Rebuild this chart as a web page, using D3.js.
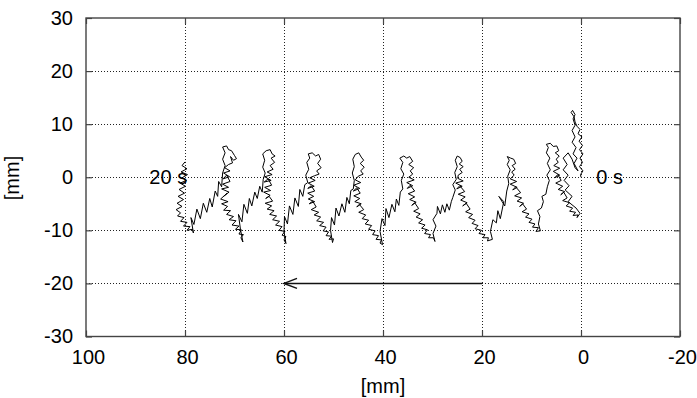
<!DOCTYPE html>
<html>
<head>
<meta charset="utf-8">
<script src="https://cdn.jsdelivr.net/npm/d3@7"></script>
<style>
  html, body { margin: 0; padding: 0; background: #fff; }
  svg { display: block; }
  text { font-family: "Liberation Sans", Arial, Helvetica, sans-serif; fill: #000; }
</style>
</head>
<body>
<svg id="chart" width="697" height="398"></svg>
<script>
// Trajectory samples [x mm, y mm], one array per stride, ordered from the 20 s end to the 0 s end.
const stride10 = [[80.0,2.9],[80.6,2.2],[79.6,1.6],[80.8,1.0],[79.5,0.5],[80.6,-0.1],[79.7,-0.6],[81.0,-1.1],[79.9,-1.7],[81.2,-2.3],[80.1,-3.0],[81.4,-3.6],[80.3,-4.2],[81.6,-4.9],[80.6,-5.5],[81.8,-6.1],[80.9,-6.7],[81.5,-7.3],[80.2,-7.6],[80.9,-8.3],[79.6,-8.5],[80.3,-9.2],[79.0,-9.3],[79.6,-10.0],[78.5,-9.8],[78.3,-10.5]];
const stride9 = [[78.8,-7.6],[78.2,-8.9],[77.6,-6.0],[76.9,-7.8],[76.3,-4.9],[75.6,-6.6],[75.0,-4.0],[74.5,-5.6],[73.9,-2.6],[73.4,-3.6],[73.2,-0.8],[72.6,-1.8],[72.4,0.8],[71.9,2.2],[72.4,3.4],[71.9,4.6],[72.4,5.7],
  [71.6,5.9],[71.2,5.2],[70.6,5.0],[70.0,4.1],[69.6,3.5],[70.2,3.2],[70.8,3.9],[70.4,2.7],[71.2,2.4],
  [72.0,1.8],[70.9,1.2],[72.2,0.8],[71.0,0.1],[72.3,-0.3],[71.6,0.4],[70.9,-0.8],[72.4,-1.3],[71.2,-1.9],[72.6,-2.2],[71.1,-2.8],[72.2,-3.6],[71.5,-3.0],[72.8,-4.1],[71.3,-4.6],[72.6,-5.0],[71.4,-5.5],[72.2,-6.2],[70.8,-6.3],[71.6,-7.0],[70.2,-7.4],[71.1,-8.0],[69.7,-8.2],[70.5,-9.0],[69.1,-9.2],[69.8,-9.8],[68.6,-9.9],[69.1,-10.7],[68.2,-10.8],[68.7,-11.4],[68.3,-12.2]];
const stride8 = [[68.8,-9.8],[69.2,-7.0],[68.5,-8.4],[68.1,-5.1],[67.4,-6.8],[67.0,-4.0],[66.5,-5.4],[65.9,-2.8],[65.4,-4.0],[64.9,-1.7],[64.4,-2.8],[64.2,-0.4],[63.8,0.8],[64.3,1.9],[63.9,3.2],[64.3,4.4],[63.6,5.0],
  [62.8,5.2],[62.4,4.4],[61.8,4.0],[62.6,3.6],[61.9,2.8],[62.8,2.2],[62.2,1.5],
  [63.4,1.0],[62.4,0.5],[63.9,0.1],[62.6,-0.6],[64.0,-0.9],[63.2,-0.3],[62.5,-1.5],[63.9,-1.9],[62.7,-2.5],[64.1,-2.8],[62.8,-3.4],[63.7,-4.0],[63.0,-3.6],[62.3,-4.5],[63.8,-4.9],[62.5,-5.4],[63.4,-6.0],[62.0,-6.3],[62.9,-7.0],[61.5,-7.3],[62.3,-8.0],[60.9,-8.3],[61.7,-9.0],[60.4,-9.3],[61.0,-10.0],[59.8,-10.2],[60.4,-10.9],[59.6,-11.2],[60.0,-11.8],[59.6,-12.5]];
const stride7 = [[60.0,-10.2],[59.9,-7.4],[59.3,-8.8],[58.9,-5.4],[58.2,-7.0],[57.8,-3.9],[57.1,-5.5],[56.8,-2.3],[56.2,-3.6],[55.8,-1.4],[55.2,-1.0],[55.6,0.4],[55.0,1.5],[55.4,2.8],[54.8,3.6],[55.1,4.4],
  [54.3,4.6],[53.6,4.0],[53.0,4.3],[52.6,3.4],[53.2,2.6],[52.5,1.8],[53.4,1.2],[52.9,0.6],[53.8,0.3],
  [54.8,-0.1],[53.7,-0.6],[55.1,-1.1],[53.9,-1.7],[55.2,-2.1],[54.5,-1.6],[53.8,-2.6],[55.2,-3.0],[54.0,-3.6],[55.1,-4.1],[53.8,-4.6],[54.9,-5.0],[54.2,-4.5],[53.5,-5.6],[54.5,-6.1],[53.0,-6.6],[53.9,-7.1],[52.6,-7.5],[53.4,-8.2],[52.0,-8.5],[52.8,-9.1],[51.5,-9.4],[52.1,-10.1],[51.0,-10.3],[51.5,-11.0],[50.4,-11.1],[50.9,-11.7],[50.0,-11.6],[50.2,-12.3]];
const stride6 = [[50.6,-10.0],[50.4,-7.6],[49.8,-9.0],[49.5,-5.8],[48.9,-7.3],[48.3,-5.0],[47.7,-6.6],[47.3,-3.8],[46.8,-5.0],[46.5,-2.5],[46.0,-2.2],[45.8,-0.6],[46.2,0.8],[45.8,2.0],[46.1,3.4],[45.6,4.3],
  [44.9,4.6],[44.4,3.8],[43.9,3.2],[44.6,2.6],[43.8,1.9],[44.5,1.2],[44.0,0.6],[45.0,0.2],
  [45.6,-0.5],[44.5,-1.0],[45.9,-1.5],[44.7,-2.1],[46.0,-2.6],[45.3,-2.0],[44.6,-3.0],[45.9,-3.5],[44.7,-4.0],[45.7,-4.6],[44.4,-5.0],[45.3,-5.6],[44.8,-5.1],[43.9,-6.1],[44.9,-6.6],[43.5,-7.1],[44.2,-7.8],[42.9,-8.1],[43.6,-8.8],[42.3,-9.1],[42.9,-9.8],[41.6,-10.1],[42.1,-10.8],[40.9,-11.0],[41.4,-11.7],[40.3,-11.8],[40.6,-12.4],[40.1,-12.7]];
const stride5 = [[40.6,-10.2],[40.2,-7.8],[39.6,-9.1],[39.4,-5.9],[38.8,-7.6],[38.2,-5.1],[37.6,-6.5],[37.3,-4.1],[36.8,-5.3],[36.5,-2.8],[36.0,-2.2],[36.3,-0.6],[35.8,0.6],[36.4,1.6],[36.0,2.8],[36.6,3.6],
  [35.8,4.0],[35.2,3.6],[34.6,3.9],[34.0,3.0],[34.8,2.4],[33.8,1.8],[34.5,1.2],[34.0,0.6],
  [34.8,0.0],[33.7,-0.5],[35.2,-1.0],[34.0,-1.6],[35.1,-2.1],[34.5,-1.5],[33.6,-2.6],[34.9,-3.1],[33.6,-3.7],[34.6,-4.2],[33.3,-4.7],[34.2,-5.3],[33.6,-4.8],[32.8,-5.9],[33.8,-6.4],[32.5,-6.9],[33.3,-7.5],[32.0,-8.0],[32.8,-8.6],[31.5,-9.0],[32.2,-9.6],[31.0,-9.9],[31.6,-10.6],[30.4,-10.8],[30.8,-11.4],[29.8,-11.4],[29.5,-12.1]];
const stride4 = [[29.9,-10.6],[29.3,-9.2],[29.9,-8.0],[29.1,-6.8],[29.0,-5.5],[28.4,-6.9],[28.0,-5.2],[27.5,-6.6],[27.1,-5.0],[26.6,-6.2],[26.2,-4.6],[25.9,-3.8],[25.4,-2.4],[25.9,-1.4],[25.2,-0.4],[25.5,0.9],[25.0,2.0],[25.4,3.2],[25.0,4.0],
  [24.4,3.7],[24.0,3.0],[24.6,2.5],[23.8,2.0],[24.5,1.5],[24.0,0.9],[24.8,0.4],
  [24.9,-0.2],[23.8,-0.7],[25.3,-1.1],[24.0,-1.7],[25.1,-2.2],[24.5,-1.6],[23.5,-2.7],[24.8,-3.2],[23.4,-3.7],[24.3,-4.3],[23.0,-4.8],[23.9,-5.4],[23.2,-4.9],[22.4,-6.0],[23.3,-6.5],[21.9,-7.0],[22.7,-7.6],[21.4,-8.1],[22.0,-8.7],[20.8,-9.1],[21.4,-9.7],[20.1,-10.0],[20.6,-10.6],[19.4,-10.8],[19.8,-11.4],[18.7,-11.4],[18.9,-12.0],[17.9,-11.7]];
const stride3 = [[18.3,-10.2],[17.8,-8.0],[17.1,-8.6],[16.8,-6.3],[16.3,-7.8],[15.6,-4.6],[16.6,-3.6],[15.4,-5.4],[15.0,-2.6],[14.6,-1.2],[14.8,0.2],[14.3,1.4],[14.9,2.4],[14.5,3.2],[14.9,3.9],
  [14.2,3.6],[13.6,3.4],[13.2,2.6],[13.9,2.2],[13.3,1.5],[14.0,1.0],[13.5,0.4],
  [14.3,-0.3],[13.0,-0.8],[14.3,-1.3],[12.9,-1.9],[13.8,-2.4],[13.2,-1.8],[12.2,-2.9],[13.4,-3.5],[12.0,-3.9],[12.9,-4.5],[11.6,-4.9],[12.4,-5.5],[11.8,-5.0],[11.0,-6.0],[11.9,-6.5],[10.5,-6.9],[11.2,-7.5],[9.9,-7.9],[10.5,-8.5],[9.3,-8.8],[9.8,-9.4],[8.6,-9.5],[9.1,-10.2],[8.2,-10.1]];
const stride2 = [[8.6,-8.8],[8.3,-7.4],[8.8,-6.3],[8.0,-5.8],[7.6,-4.6],[7.9,-3.6],[7.1,-3.2],[6.8,-1.8],[6.4,-0.6],[6.9,0.4],[6.2,1.4],[6.8,2.6],[6.3,3.6],[7.0,4.6],[6.6,5.6],[7.0,6.2],
  [6.2,6.4],[5.6,5.8],[4.9,5.9],[4.5,5.0],[5.2,4.6],[4.4,4.0],[5.0,3.4],[4.6,2.8],
  [5.5,2.2],[4.3,1.7],[5.6,1.1],[4.3,0.4],[5.3,-0.1],[4.7,0.5],[4.0,-0.6],[5.1,-1.1],[3.7,-1.7],[4.6,-2.3],[3.3,-2.7],[4.1,-3.3],[3.5,-2.8],[2.8,-3.9],[3.7,-4.4],[2.3,-4.8],[3.0,-5.4],[1.7,-5.8],[2.3,-6.4],[1.1,-6.6],[1.6,-7.2],[0.6,-7.1],[0.8,-7.6],[0.2,-6.8]];
const stride1 = [[1.0,-5.8],[2.6,-4.6],[1.8,-3.6],[3.2,-2.4],[2.4,-1.6],[3.4,-0.6],[2.6,0.4],[3.6,1.4],[2.8,2.4],[3.6,3.6],[2.6,4.6],[1.8,3.4],[1.2,1.8],[0.6,1.2],[1.4,2.6],[0.8,3.6],[1.6,4.4],[1.0,5.6],[1.8,6.6],[1.2,7.6],[1.8,8.8],[1.2,9.8],[1.6,11.0],[1.2,11.8],[1.7,12.6],
  [2.0,12.2],[1.4,11.4],[1.2,10.4],[0.8,9.6],[0.2,9.0],[0.6,8.2],[-0.2,7.6],[0.4,6.8],[-0.3,6.0],[0.3,5.2],[-0.4,4.4],[0.2,3.6],[-0.3,2.8],[0.3,2.0],[-0.4,1.2],[0.1,0.5],[0.0,0.0]];

// Axis ticks
const xTicks = [100, 80, 60, 40, 20, 0, -20];
const yTicks = [-30, -20, -10, 0, 10, 20, 30];

// Direction-of-travel arrow (from, to) in mm
const arrowFrom = [20, -20];
const arrowTo = [60, -20];

// Time annotations
const timeLabels = [
  { text: "20 s", x: 87.2, y: 0 },
  { text: "0 s", x: -3.1, y: 0 }
];

const W = 697, H = 398;
const plot = { left: 86, right: 680, top: 18, bottom: 336.5 };

const x = d3.scaleLinear().domain([100, -20]).range([plot.left, plot.right]);
const y = d3.scaleLinear().domain([-30, 30]).range([plot.bottom, plot.top]);

const svg = d3.select("#chart");
const frameColor = "#444";
const fontSize = 20;
const fmt = d => String(d);   // plain hyphen-minus, as in the printed labels

// Dotted grid
const grid = svg.append("g").attr("stroke", "#222").attr("stroke-width", 1)
  .attr("stroke-dasharray", "1,2").attr("shape-rendering", "crispEdges");
grid.selectAll("line.gx").data(xTicks.filter(v => v > -20 && v < 100)).join("line")
  .attr("x1", d => Math.round(x(d)) + 0.5).attr("x2", d => Math.round(x(d)) + 0.5)
  .attr("y1", plot.top).attr("y2", plot.bottom);
grid.selectAll("line.gy").data(yTicks.filter(v => v > -30 && v < 30)).join("line")
  .attr("y1", d => Math.round(y(d)) + 0.5).attr("y2", d => Math.round(y(d)) + 0.5)
  .attr("x1", plot.left).attr("x2", plot.right);

// Axes with inward ticks, mirrored on top and right
const axB = svg.append("g").attr("transform", `translate(0,${plot.bottom})`)
  .call(d3.axisBottom(x).tickValues(xTicks).tickSize(-6).tickPadding(13.5).tickFormat(fmt));
const axT = svg.append("g").attr("transform", `translate(0,${plot.top})`)
  .call(d3.axisTop(x).tickValues(xTicks).tickSize(-6).tickFormat(""));
const axL = svg.append("g").attr("transform", `translate(${plot.left},0)`)
  .call(d3.axisLeft(y).tickValues(yTicks).tickSize(-6).tickPadding(13).tickFormat(fmt));
const axR = svg.append("g").attr("transform", `translate(${plot.right},0)`)
  .call(d3.axisRight(y).tickValues(yTicks).tickSize(-6).tickFormat(""));

[axB, axT, axL, axR].forEach(g => {
  g.select(".domain").remove();
  g.selectAll(".tick line").attr("stroke", frameColor).attr("stroke-width", 1.2);
  g.selectAll("text").attr("font-size", fontSize).attr("fill", "#000")
    .style("font-family", '"Liberation Sans", Arial, sans-serif');
});
axB.selectAll("text").attr("dx", 2);

// Frame
svg.append("rect")
  .attr("x", plot.left).attr("y", plot.top)
  .attr("width", plot.right - plot.left).attr("height", plot.bottom - plot.top)
  .attr("fill", "none").attr("stroke", frameColor).attr("stroke-width", 1.4);

// Trajectory
const track = [].concat(stride10, stride9, stride8, stride7, stride6, stride5, stride4, stride3, stride2, stride1);
const line = d3.line().x(d => x(d[0])).y(d => y(d[1]));
svg.append("path").datum(track)
  .attr("d", line).attr("fill", "none")
  .attr("stroke", "#000").attr("stroke-width", 1).attr("stroke-linejoin", "miter");

// Arrow
const ax0 = x(arrowFrom[0]), ay0 = y(arrowFrom[1]);
const ax1 = x(arrowTo[0]), ay1 = y(arrowTo[1]);
svg.append("line").attr("x1", ax0).attr("y1", ay0).attr("x2", ax1).attr("y2", ay1)
  .attr("stroke", "#111").attr("stroke-width", 1.5);
svg.append("path")
  .attr("d", `M${ax1 + 13},${ay1 - 5}L${ax1},${ay1}L${ax1 + 13},${ay1 + 5}`)
  .attr("fill", "none").attr("stroke", "#111").attr("stroke-width", 1.5);

// Time labels
svg.selectAll("text.tl").data(timeLabels).join("text")
  .attr("class", "tl")
  .attr("x", d => x(d.x)).attr("y", d => y(d.y))
  .attr("dy", "0.36em")
  .attr("font-size", fontSize)
  .text(d => d.text);

// Axis titles
svg.append("text").attr("x", 383).attr("y", 393).attr("text-anchor", "middle")
  .attr("font-size", fontSize).text("[mm]");
svg.append("text").attr("transform", "translate(19,178) rotate(-90)")
  .attr("text-anchor", "middle").attr("font-size", fontSize).text("[mm]");
</script>
</body>
</html>
